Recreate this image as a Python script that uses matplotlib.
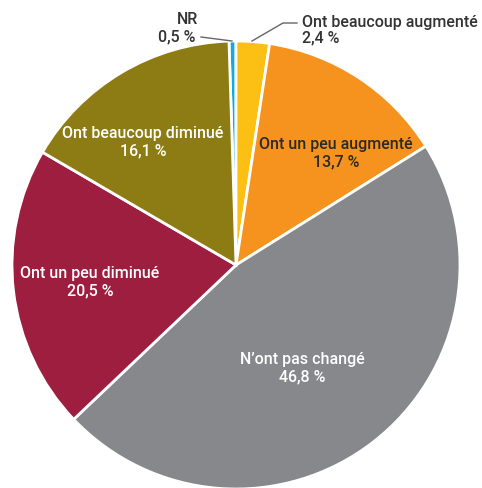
import matplotlib.pyplot as plt

labels = ["NR", "Ont beaucoup augmenté", "Ont un peu augmenté", "N\u2019ont pas changé",
          "Ont un peu diminué", "Ont beaucoup diminué"]
values = [0.5, 2.4, 13.7, 46.8, 20.5, 16.1]
value_text = ["0,5 %", "2,4 %", "13,7 %", "46,8 %", "20,5 %", "16,1 %"]
colors = ["#14a9e1", "#fcbf14", "#f6931f", "#87888c", "#9e1e40", "#8d7b13"]
text_colors = ["#333333", "#333333", "#2a2a2a", "white", "white", "white"]

W, H = 482, 489
cx, cy, R = 236, 266, 224


def py(y):
    return H - y


plt.rcParams['font.family'] = ['Roboto', 'DejaVu Sans']

fig = plt.figure(figsize=(W / 100, H / 100), dpi=100)
ax = fig.add_axes([0, 0, 1, 1])

start = 90 + values[0] * 3.6
ax.pie(values, colors=colors, startangle=start, counterclock=False,
       center=(cx, py(cy)), radius=R, frame=True,
       wedgeprops=dict(edgecolor="white", linewidth=2))

ax.set_xlim(0, W)
ax.set_ylim(0, H)
ax.set_aspect('equal')
ax.axis('off')

fs = 11.5

# labels inside slices
inside = {2: (336, 153), 3: (302, 368), 4: (90, 282), 5: (143, 142)}
for i, (x, y) in inside.items():
    ax.text(x, py(y), labels[i] + "\n" + value_text[i], ha='center', va='center',
            fontsize=fs, fontweight='medium', color=text_colors[i], linespacing=1.2)

# outside labels with leader lines
ax.text(188, py(20), labels[0], ha='center', va='center',
        fontsize=fs, fontweight='medium', color="#333333")
ax.text(177, py(37), value_text[0], ha='center', va='center',
        fontsize=fs, fontweight='medium', color="#333333")
ax.plot([201, 232], [py(38), py(42)], color="#666666", lw=1)

ax.text(302, py(30), labels[1] + "\n" + value_text[1], ha='left', va='center',
        fontsize=fs, fontweight='medium', color="#333333", linespacing=1.05)
ax.plot([252, 283, 297], [py(42), py(24), py(24)], color="#666666", lw=1)

fig.savefig("out.png", dpi=100)
